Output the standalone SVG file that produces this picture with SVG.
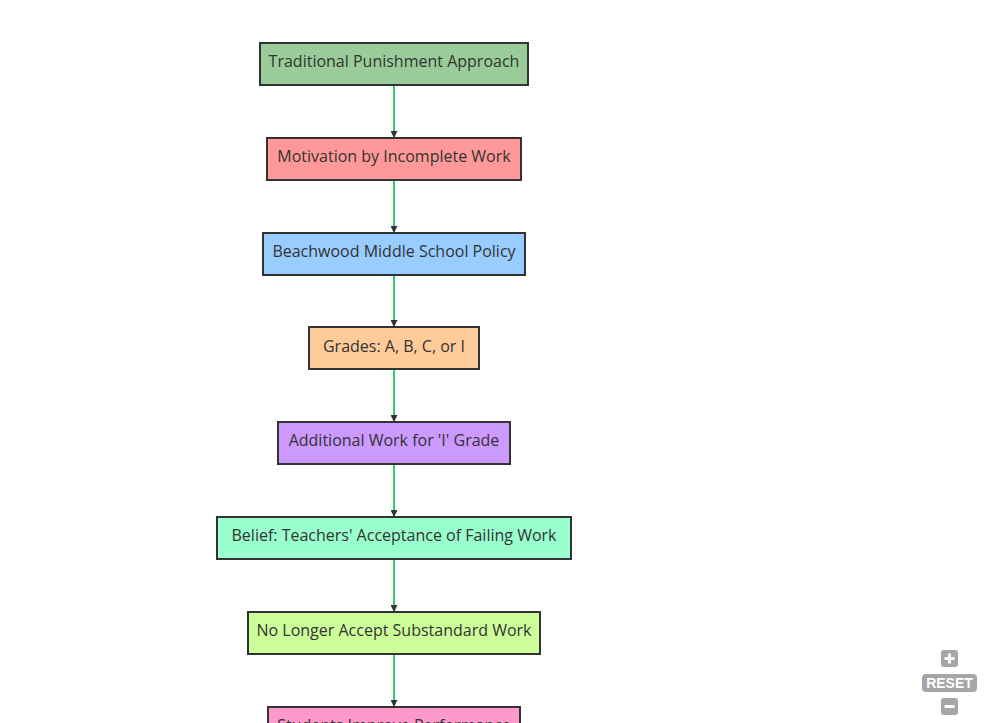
<svg xmlns="http://www.w3.org/2000/svg" width="988" height="723" viewBox="0 0 988 723">
<defs>
<style>
.n rect{stroke:#333;stroke-width:2}
.n text{font-family:"Open Sans","DejaVu Sans",sans-serif;font-size:16px;fill:#333;text-anchor:middle;dominant-baseline:central}
.e{stroke:#2ecc71;stroke-width:2;fill:none;marker-end:url(#ah)}
.z{fill:#a6a6a6}
</style>
<marker id="ah" viewBox="0 0 10 10" refX="10" refY="5" markerWidth="7" markerHeight="7" orient="auto" markerUnits="userSpaceOnUse">
<path d="M0,0L10,5L0,10z" fill="#333"/>
</marker>
</defs>
<rect width="988" height="723" fill="#fff"/>
<g id="edges">
<path class="e" d="M394,86V138"/>
<path class="e" d="M394,181V233"/>
<path class="e" d="M394,276V327"/>
<path class="e" d="M394,370V422"/>
<path class="e" d="M394,465V517"/>
<path class="e" d="M394,560V612"/>
<path class="e" d="M394,655V707"/>
</g>
<g id="n1" class="n"><rect x="260" y="43" width="268" height="42" fill="#99cc99"/><text x="394" y="61">Traditional Punishment Approach</text></g>
<g id="n2" class="n"><rect x="267" y="138" width="254" height="42" fill="#ff9999"/><text x="394" y="156">Motivation by Incomplete Work</text></g>
<g id="n3" class="n"><rect x="263" y="233" width="262" height="42" fill="#99ccff"/><text x="394" y="251">Beachwood Middle School Policy</text></g>
<g id="n4" class="n"><rect x="309" y="327" width="170" height="42" fill="#ffcc99"/><text x="394" y="346">Grades: A, B, C, or I</text></g>
<g id="n5" class="n"><rect x="278" y="422" width="232" height="42" fill="#cc99ff"/><text x="394" y="440">Additional Work for 'I' Grade</text></g>
<g id="n6" class="n"><rect x="217" y="517" width="354" height="42" fill="#99ffcc"/><text x="394" y="535">Belief: Teachers' Acceptance of Failing Work</text></g>
<g id="n7" class="n"><rect x="248" y="612" width="292" height="42" fill="#ccff99"/><text x="394" y="630">No Longer Accept Substandard Work</text></g>
<g id="n8" class="n"><rect x="268" y="707" width="252" height="42" fill="#ff99cc"/><text x="394" y="725">Students Improve Performance</text></g>
<g id="zoom">
<rect class="z" x="941" y="650" width="17" height="17" rx="3"/>
<path d="M949.5,653.5v10M944.5,658.5h10" stroke="#fff" stroke-width="3"/>
<rect class="z" x="922" y="674" width="55" height="18" rx="4"/>
<text x="949.5" y="688" font-family="Liberation Sans,Arial,sans-serif" font-weight="bold" font-size="14" fill="#fff" text-anchor="middle">RESET</text>
<rect class="z" x="941" y="698" width="17" height="17" rx="3"/>
<path d="M944.5,706.5h10" stroke="#fff" stroke-width="3"/>
</g>
</svg>
